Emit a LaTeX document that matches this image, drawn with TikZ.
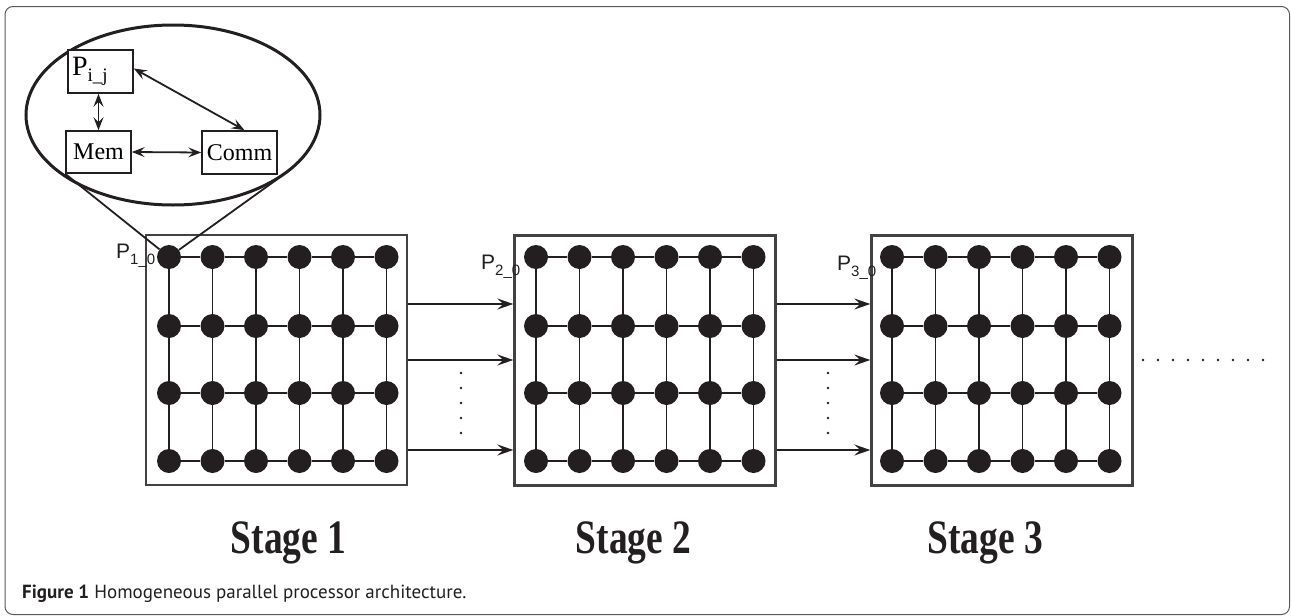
\documentclass[tikz,border=0pt]{standalone}
\usepackage{fontspec}
\setmainfont{Liberation Serif}
\newfontfamily\helv{Liberation Sans}
\newfontfamily\capfont{PT Sans}
\usetikzlibrary{arrows.meta,shapes.geometric}
\definecolor{ink}{HTML}{231F20}
\begin{document}
\begin{tikzpicture}[x=1pt,y=-1pt,
  pe/.style={circle, fill=ink, minimum size=24pt, inner sep=0pt},
  stagebox/.style={draw=ink!85, line width=2.4pt, minimum width=261pt, minimum height=250pt, inner sep=0pt},
  mesh/.style={line width=1.8pt, draw=ink},
  flow/.style={line width=1.8pt, draw=ink, -{Stealth[length=16pt,width=11pt,inset=6pt]}},
  innerbox/.style={draw=ink, line width=1.6pt, inner sep=0pt, rectangle},
  biarrow/.style={line width=1.8pt, draw=ink, {Stealth[length=13pt,width=10pt,inset=5pt]}-{Stealth[length=13pt,width=10pt,inset=5pt]}},
  lensline/.style={line width=1.8pt, draw=ink},
  smalldot/.style={circle, fill=ink, minimum size=2.8pt, inner sep=0pt},
  plabel/.style={anchor=base west, inner sep=0pt, font=\helv\fontsize{21}{21}\selectfont, text=ink},
  stagelabel/.style={anchor=base, inner sep=0pt, font=\bfseries\fontsize{48}{48}\selectfont, text=ink}
]
\useasboundingbox (0,0) rectangle (1291,616);
% outer frame
\draw[draw=gray!70!black, line width=1pt, rounded corners=8pt] (5,6.5) rectangle (1289.5,614.5);

% stage boxes
\node[stagebox] (box1) at (276.5,360) {};
\node[stagebox] (box2) at (645,360.5) {};
\node[stagebox] (box3) at (1002,360.5) {};

% labels (drawn before the PEs so that the PE covers the tail)
\node[plabel] (l1) at (116,258) {P\raisebox{-6pt}{\fontsize{15}{15}\selectfont 1\_0}};
\node[plabel] (l2) at (481,269) {P\raisebox{-6pt}{\fontsize{15}{15}\selectfont 2\_0}};
\node[plabel] (l3) at (837,270) {P\raisebox{-6pt}{\fontsize{15}{15}\selectfont 3\_0}};

% processing elements
\foreach \s/\x in {1/169, 2/536, 3/892} {
  \foreach \r/\y in {0/257,1/326,2/393,3/461} {
    \foreach \c in {0,...,5} {
      \node[pe] (n\s-\r-\c) at ({\x+43.5*\c},\y) {};
    }
  }
}
% mesh links
\foreach \s in {1,2,3} {
  \foreach \r in {0,...,3} {
    \foreach \c in {0,...,4} {
      \pgfmathtruncatemacro{\d}{\c+1}
      \draw[mesh] (n\s-\r-\c) -- (n\s-\r-\d);
    }
  }
  \foreach \r in {0,...,2} {
    \pgfmathtruncatemacro{\q}{\r+1}
    \foreach \c in {0,...,5} {
      \draw[mesh] (n\s-\r-\c) -- (n\s-\q-\c);
    }
  }
}

% inter-stage arrows
\coordinate (r1) at (0,304);
\coordinate (r2) at (0,360);
\coordinate (r3) at (0,450);
\foreach \r in {r1,r2,r3} {
  \draw[flow] (box1.east |- \r) -- (box2.west |- \r);
  \draw[flow] (box2.east |- \r) -- (box3.west |- \r);
}
% vertical dots
\foreach \k in {0,...,4} {
  \node[smalldot] (va\k) at (461,{373+15*\k}) {};
  \node[smalldot] (vb\k) at (828,{373+15*\k}) {};
}
% horizontal dots
\foreach \k in {0,...,8} {
  \node[smalldot] (h\k) at ({1143+15*\k},360) {};
}

% zoomed processor
\node[draw=ink, ellipse, line width=3pt, minimum width=294pt, minimum height=180pt, inner sep=0pt] (lens) at (173,115) {};
\node[innerbox, minimum width=65pt, minimum height=43pt, fill=white] (pij) at (100.5,71.5)
  {\makebox[65pt][l]{\hspace{4pt}\fontsize{28}{28}\selectfont P\raisebox{-6pt}{\fontsize{19}{19}\selectfont i\_j}}};
\node[innerbox, minimum width=65pt, minimum height=42pt] (mem) at (98.5,152) {\fontsize{24}{24}\selectfont Mem};
\node[innerbox, minimum width=75pt, minimum height=43pt] (comm) at (239.5,152.5) {\fontsize{24}{24}\selectfont Comm};
\draw[biarrow] (pij.south -| mem.north) -- (mem.north);
\draw[biarrow] (mem.east) -- (comm.west);
\draw[biarrow] ([yshift=3pt]pij.east) -- ([xshift=5pt]comm.north);
\draw[lensline] (mem.south west) -- (n1-0-0);
\draw[lensline] ([yshift=-4pt]comm.south east) -- (n1-0-0);

% stage names
\node[stagelabel] (st1) at (288.5,553) {\scalebox{0.78}[1]{Stage 1}};
\node[stagelabel] (st2) at (633.5,553) {\scalebox{0.78}[1]{Stage 2}};
\node[stagelabel] (st3) at (985,553) {\scalebox{0.78}[1]{Stage 3}};

% caption
\node[anchor=base west, inner sep=0pt, font=\capfont\fontsize{19}{19}\selectfont, text=ink] (cap) at (22,598)
  {\textbf{Figure 1} Homogeneous parallel processor architecture.};
\end{tikzpicture}
\end{document}
